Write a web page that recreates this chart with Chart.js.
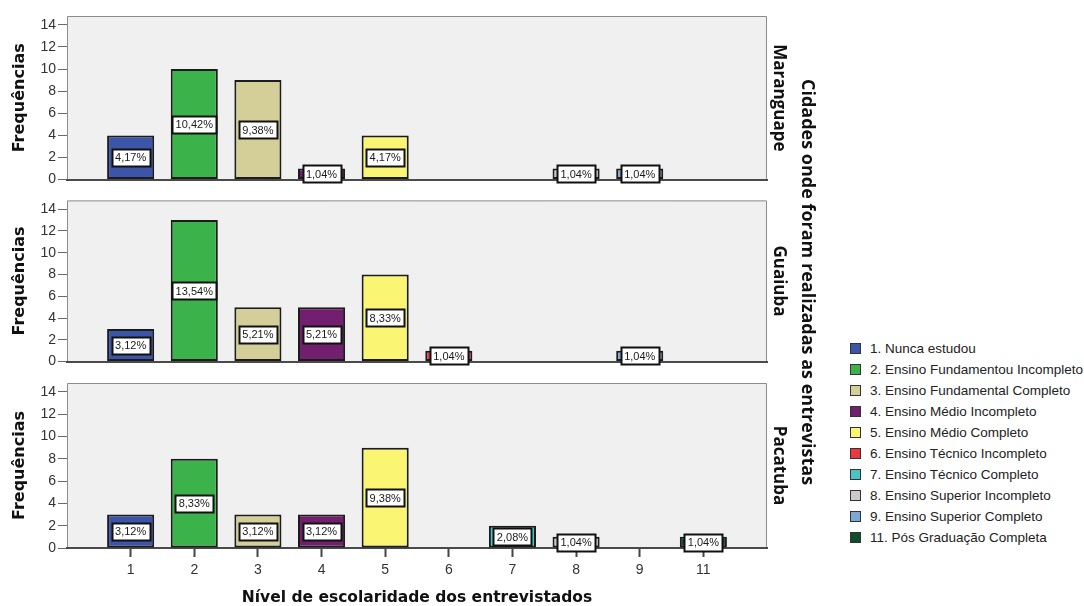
<!DOCTYPE html>
<html lang="pt-BR">
<head>
<meta charset="utf-8">
<title>Nível de escolaridade dos entrevistados por cidade</title>
<script src="https://cdn.jsdelivr.net/npm/chart.js@4/dist/chart.umd.min.js"></script>
<style>
  html, body { margin: 0; padding: 0; background: #ffffff; }
  body { width: 1084px; height: 606px; position: relative; overflow: hidden; }
  .panel { position: absolute; left: 0; width: 800px; }
  #p1 { top: 0; height: 190px; }
  #p2 { top: 190px; height: 182px; }
  #p3 { top: 372px; height: 234px; }
  #cityTitle {
    position: absolute; left: 797px; top: 282px; transform: translateY(-50%);
    writing-mode: vertical-rl; white-space: nowrap;
    font-family: "Open Sans", sans-serif; font-weight: 700; font-size: 18px; color: #111;
  }
  #legend { position: absolute; left: 850px; top: 338px; font-family: "Liberation Sans", Arial, sans-serif; font-size: 13.5px; color: #222; }
  #legend .row { height: 21px; display: flex; align-items: center; white-space: nowrap; }
  #legend .sw { width: 9px; height: 9px; border: 1px solid #333; margin-right: 9px; }
</style>
</head>
<body>
<div class="panel" id="p1"><canvas id="c1"></canvas></div>
<div class="panel" id="p2"><canvas id="c2"></canvas></div>
<div class="panel" id="p3"><canvas id="c3"></canvas></div>
<div id="cityTitle">Cidades onde foram realizadas as entrevistas</div>
<div id="legend"></div>
<script>
// Education levels (x categories) and their legend names
const levels = ['1', '2', '3', '4', '5', '6', '7', '8', '9', '11'];
const levelNames = [
  '1. Nunca estudou',
  '2. Ensino Fundamentou Incompleto',
  '3. Ensino Fundamental Completo',
  '4. Ensino Médio Incompleto',
  '5. Ensino Médio Completo',
  '6. Ensino Técnico Incompleto',
  '7. Ensino Técnico Completo',
  '8. Ensino Superior Incompleto',
  '9. Ensino Superior Completo',
  '11. Pós Graduação Completa'
];
const levelColors = ['#3d55a8', '#3cb34a', '#d4cf98', '#711f6e', '#faf673',
                     '#e93844', '#4bc2c3', '#cacaca', '#7ba8d4', '#0d4f2d'];

// Frequencies per city, in the order of `levels`
const cities = ['Maranguape', 'Guaiuba', 'Pacatuba'];
const maranguape = [4, 10, 9, 1, 4, 0, 0, 1, 1, 0];
const guaiuba    = [3, 13, 5, 5, 8, 1, 0, 0, 1, 0];
const pacatuba   = [3, 8, 3, 3, 9, 0, 2, 1, 0, 1];

const yTicks = [0, 2, 4, 6, 8, 10, 12, 14];

// Percentages are taken over all interviewees
const total = [maranguape, guaiuba, pacatuba].flat().reduce((a, b) => a + b, 0);

function pctLabel(count) {
  // round half to even, two decimals, comma as decimal separator
  const v = count / total * 100 * 100;
  const f = Math.floor(v);
  let r;
  if (Math.abs(v - f - 0.5) < 1e-9) r = (f % 2 === 0) ? f : f + 1;
  else r = Math.round(v);
  return (r / 100).toFixed(2).replace('.', ',') + '%';
}

// Category axis with an empty slot on each side of the levels
const axisLabels = [''].concat(levels, ['']);

const panelFrame = {
  id: 'panelFrame',
  beforeDraw(chart) {
    const { ctx, chartArea: { left, top, right, bottom } } = chart;
    ctx.save();
    ctx.fillStyle = '#f0f0f0';
    ctx.fillRect(left, top, right - left, bottom - top);
    ctx.strokeStyle = '#8c8c8c';
    ctx.lineWidth = 1;
    ctx.beginPath();
    ctx.moveTo(left + 0.5, bottom);
    ctx.lineTo(left + 0.5, top + 0.5);
    ctx.lineTo(right - 0.5, top + 0.5);
    ctx.lineTo(right - 0.5, bottom);
    ctx.stroke();
    ctx.restore();
  }
};

const boxLabels = {
  id: 'boxLabels',
  afterDatasetsDraw(chart) {
    const { ctx } = chart;
    const meta = chart.getDatasetMeta(0);
    const vals = chart.data.datasets[0].data;
    ctx.save();
    ctx.font = '11px "Liberation Sans", Arial, sans-serif';
    ctx.textAlign = 'center';
    ctx.textBaseline = 'middle';
    meta.data.forEach((bar, i) => {
      const v = vals[i];
      if (!v) return;
      const txt = pctLabel(v);
      const cy = (bar.y + bar.base) / 2;
      const w = Math.round(ctx.measureText(txt).width) + 7;
      const h = 17;
      const x0 = Math.round(bar.x - w / 2) + 0.5;
      const y0 = Math.round(cy - h / 2) + 0.5;
      ctx.fillStyle = '#ffffff';
      ctx.fillRect(x0, y0, w, h);
      ctx.lineWidth = 2;
      ctx.strokeStyle = '#111111';
      ctx.strokeRect(x0, y0, w, h);
      ctx.fillStyle = '#1a1a1a';
      ctx.fillText(txt, bar.x, cy + 1);
    });
    ctx.restore();
  }
};

function makePanel(canvasId, city, counts, padTop, xHeight, showX) {
  const data = [null].concat(counts.map(v => v || null), [null]);
  const colors = ['#000'].concat(levelColors, ['#000']);
  const lastIdx = axisLabels.length - 1;
  return new Chart(document.getElementById(canvasId), {
    type: 'bar',
    data: {
      labels: axisLabels,
      datasets: [{
        label: city,
        data: data,
        backgroundColor: colors,
        borderColor: '#1c1c1c',
        borderWidth: 2,
        borderSkipped: false,
        categoryPercentage: 1,
        barPercentage: 0.74
      }]
    },
    options: {
      responsive: true,
      maintainAspectRatio: false,
      animation: false,
      layout: { padding: { top: padTop, left: 0, right: 0, bottom: 0 } },
      plugins: { legend: { display: false }, tooltip: { enabled: false } },
      scales: {
        x: {
          type: 'category',
          offset: false,
          grid: {
            display: true,
            offset: false,
            drawOnChartArea: false,
            drawTicks: showX,
            tickLength: 9,
            tickWidth: 2,
            tickColor: (c) => (c.index === 0 || c.index === lastIdx) ? 'rgba(0,0,0,0)' : '#454545'
          },
          border: { display: true, color: '#4a4a4a', width: 2 },
          ticks: {
            display: showX,
            autoSkip: false,
            maxRotation: 0,
            padding: 5,
            color: '#333',
            font: { family: '"Liberation Sans", Arial, sans-serif', size: 14 }
          },
          title: {
            display: showX,
            text: 'Nível de escolaridade dos entrevistados',
            color: '#111',
            padding: { top: 0, bottom: 0 },
            font: { family: '"DejaVu Sans", sans-serif', size: 15.5, weight: 'bold', lineHeight: 1 }
          },
          afterFit(scale) { scale.height = xHeight; }
        },
        y: {
          position: 'left',
          min: 0,
          max: 14.8,
          grid: { drawOnChartArea: false, drawTicks: true, tickLength: 9, tickColor: '#6a6a6a', tickWidth: 1 },
          border: { display: false },
          ticks: {
            stepSize: 2,
            includeBounds: false,
            padding: 2,
            color: '#333',
            font: { family: '"Liberation Sans", Arial, sans-serif', size: 14 },
            callback: (v) => yTicks.includes(v) ? String(v) : null
          },
          title: {
            display: true,
            text: 'Frequências',
            color: '#111',
            padding: { top: 10, bottom: 0 },
            font: { family: '"DejaVu Sans", sans-serif', size: 16, weight: 'bold' }
          },
          afterFit(scale) { scale.width = 67; }
        },
        city: {
          position: 'right',
          min: 0,
          max: 14.8,
          grid: { display: false },
          border: { display: false },
          ticks: { display: false },
          title: {
            display: true,
            text: city,
            color: '#111',
            padding: { top: 11, bottom: 0 },
            font: { family: '"Open Sans", sans-serif', size: 17, weight: 'bold' }
          },
          afterFit(scale) { scale.width = 33; }
        }
      }
    },
    plugins: [panelFrame, boxLabels]
  });
}

makePanel('c1', cities[0], maranguape, 16, 7, false);
makePanel('c2', cities[1], guaiuba, 9, 7, false);
makePanel('c3', cities[2], pacatuba, 11, 58, true);

// Legend of education levels
const legend = document.getElementById('legend');
levelNames.forEach((name, i) => {
  const row = document.createElement('div');
  row.className = 'row';
  const sw = document.createElement('span');
  sw.className = 'sw';
  sw.style.background = levelColors[i];
  const tx = document.createElement('span');
  tx.textContent = name;
  row.appendChild(sw);
  row.appendChild(tx);
  legend.appendChild(row);
});
</script>
</body>
</html>
